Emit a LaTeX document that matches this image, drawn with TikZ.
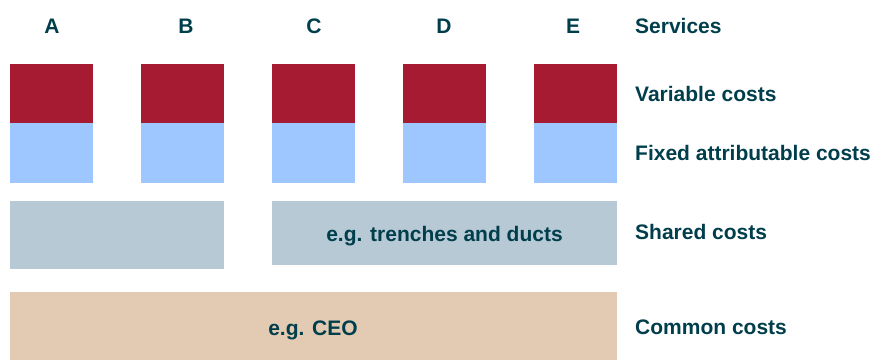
\documentclass[tikz,border=0pt]{standalone}
\usepackage{fontspec}
\setmainfont{Liberation Sans}
\definecolor{txt}{RGB}{0,62,76}
\definecolor{varred}{RGB}{166,26,50}
\definecolor{fixblue}{RGB}{158,198,255}
\definecolor{shared}{RGB}{184,201,214}
\definecolor{common}{RGB}{226,203,178}
\begin{document}
\begin{tikzpicture}[x=1pt,y=-1pt,
  blk/.style={rectangle,draw=none,inner sep=0pt,outer sep=0pt},
  varbox/.style={blk,fill=varred,minimum width=83pt,minimum height=59pt},
  fixbox/.style={blk,fill=fixblue,minimum width=83pt,minimum height=60pt},
  lbl/.style={anchor=base,inner sep=0pt,text=txt,font=\bfseries\fontsize{21}{25}\selectfont},
  rlbl/.style={lbl,anchor=base west}]
\useasboundingbox (0,0) rectangle (873,360);
% service letters
\node[lbl] (sA) at (52,33) {A};
\node[lbl] (sB) at (186,33) {B};
\node[lbl] (sC) at (314,33) {C};
\node[lbl] (sD) at (444,33) {D};
\node[lbl] (sE) at (573,33) {E};
% columns
\foreach \n/\x in {A/51.5,B/182.5,C/313.5,D/444.5,E/575.5}{
  \node[varbox] (v\n) at (\x,93.5) {};
  \node[fixbox] (f\n) at (\x,153) {};
}
% shared
\node[blk,fill=shared,minimum width=214pt,minimum height=68pt] (sh1) at (117,235) {};
\node[blk,fill=shared,minimum width=345pt,minimum height=64pt] (sh2) at (444.5,233) {};
\node[lbl] (sh2t) at (444.5,241.5) {e.g. trenches and ducts};
% common
\node[blk,fill=common,minimum width=607pt,minimum height=68pt] (cm) at (313.5,326) {};
\node[lbl] (cmt) at (313,335) {e.g. CEO};
% right labels
\node[rlbl] (lS) at (635,33.3) {Services};
\node[rlbl] (lV) at (635,101.7) {Variable costs};
\node[rlbl] (lF) at (635,160) {Fixed attributable costs};
\node[rlbl] (lSh) at (635,239.3) {Shared costs};
\node[rlbl] (lC) at (635,334.3) {Common costs};
\end{tikzpicture}
\end{document}
